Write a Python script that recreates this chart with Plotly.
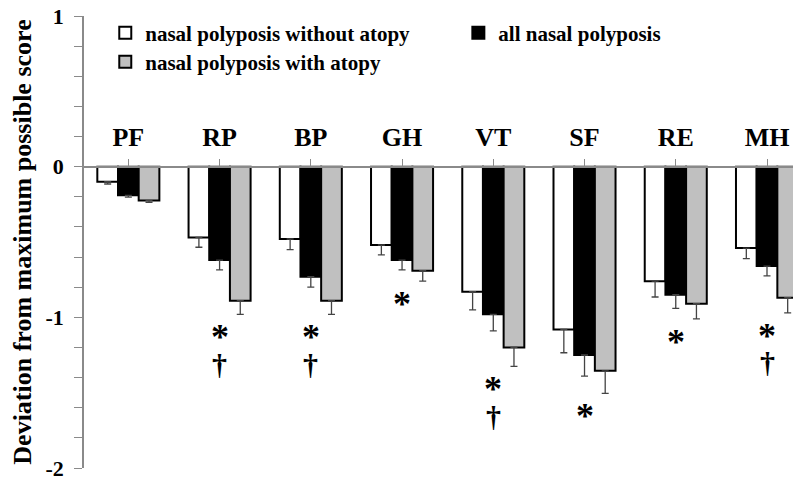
import plotly.graph_objects as go

categories = ["PF", "RP", "BP", "GH", "VT", "SF", "RE", "MH"]
without_atopy = [-0.10, -0.47, -0.48, -0.52, -0.83, -1.08, -0.76, -0.54]
without_atopy_err = [0.015, 0.065, 0.07, 0.065, 0.12, 0.155, 0.105, 0.07]
all_np = [-0.19, -0.62, -0.73, -0.62, -0.98, -1.25, -0.85, -0.66]
all_np_err = [0.012, 0.065, 0.07, 0.065, 0.11, 0.14, 0.09, 0.065]
with_atopy = [-0.225, -0.89, -0.89, -0.69, -1.20, -1.355, -0.91, -0.87]
with_atopy_err = [0.012, 0.09, 0.09, 0.07, 0.125, 0.15, 0.10, 0.10]
significance = ["", "*†", "*†", "*", "*†", "*", "*", "*†"]
yticks = [round(-2 + 0.2 * i, 1) for i in range(16)]

FONT = "Liberation Serif"
ERR_COL = "#444444"
AX_COL = "#8a8a8a"

def bar(name, vals, errs, color, legend):
    return go.Bar(
        x=categories, y=vals, name=name, legend=legend,
        marker=dict(color=color, line=dict(color="black", width=2)),
        error_y=dict(type="data", symmetric=False, array=[0] * len(vals),
                     arrayminus=errs, color=ERR_COL, thickness=1.3, width=3.5),
    )

fig = go.Figure()
fig.add_trace(bar("nasal polyposis without atopy", without_atopy, without_atopy_err, "white", "legend"))
fig.add_trace(bar("all nasal polyposis", all_np, all_np_err, "black", "legend3"))
fig.add_trace(bar("nasal polyposis with atopy", with_atopy, with_atopy_err, "#c0c0c0", "legend2"))

# significance markers below lowest error bar
for i, cat in enumerate(categories):
    s = significance[i]
    if not s:
        continue
    low = min(without_atopy[i] - without_atopy_err[i],
              all_np[i] - all_np_err[i],
              with_atopy[i] - with_atopy_err[i])
    if "*" in s:
        fig.add_annotation(x=cat, y=low, text="*", showarrow=False, yanchor="middle",
                           yshift=-23, font=dict(family=FONT, size=36, color="black", weight="bold"))
    if "†" in s:
        fig.add_annotation(x=cat, y=low, text="†", showarrow=False, yanchor="middle",
                           yshift=-50, font=dict(family=FONT, size=30, color="black", weight="bold"))

legfont = dict(family=FONT, size=21, color="black", weight="bold")
fig.update_layout(
    width=793, height=481,
    margin=dict(l=84, r=0, t=16, b=13),
    plot_bgcolor="white", paper_bgcolor="white",
    barmode="group", bargap=0.32, bargroupgap=0,
    font=dict(family=FONT, color="black"),
    showlegend=True,
    legend=dict(x=0.030, y=0.962, xanchor="left", yanchor="middle", font=legfont,
                bgcolor="rgba(0,0,0,0)"),
    legend2=dict(x=0.030, y=0.898, xanchor="left", yanchor="middle", font=legfont,
                 bgcolor="rgba(0,0,0,0)"),
    legend3=dict(x=0.528, y=0.962, xanchor="left", yanchor="middle", font=legfont,
                 bgcolor="rgba(0,0,0,0)"),
    xaxis=dict(
        side="top", anchor="free", position=2 / 3,
        range=[-0.486, 7.285], automargin=False,
        showline=True, linecolor=AX_COL, linewidth=1.5,
        ticks="outside", ticklen=7, tickcolor=AX_COL, tickwidth=1.3,
        ticklabelstandoff=3,
        tickfont=dict(family=FONT, size=26, color="black", weight="bold"),
        showgrid=False, zeroline=False,
    ),
    yaxis=dict(
        range=[-2, 1], automargin=False,
        tickvals=yticks,
        ticktext=[str(int(round(v))) if abs(v - round(v)) < 1e-9 else "" for v in yticks],
        showline=True, linecolor=AX_COL, linewidth=1.5,
        ticks="outside", ticklen=8, tickcolor=AX_COL, tickwidth=1.3,
        ticklabelstandoff=6,
        tickfont=dict(family=FONT, size=22, color="black", weight="bold"),
        showgrid=False, zeroline=False,
        title=dict(text="Deviation from maximum possible score", standoff=6,
                   font=dict(family=FONT, size=26, color="black", weight="bold")),
    ),
)

fig.write_html("out.html", config={"displayModeBar": False},
               post_script="document.body.style.margin='0';")
